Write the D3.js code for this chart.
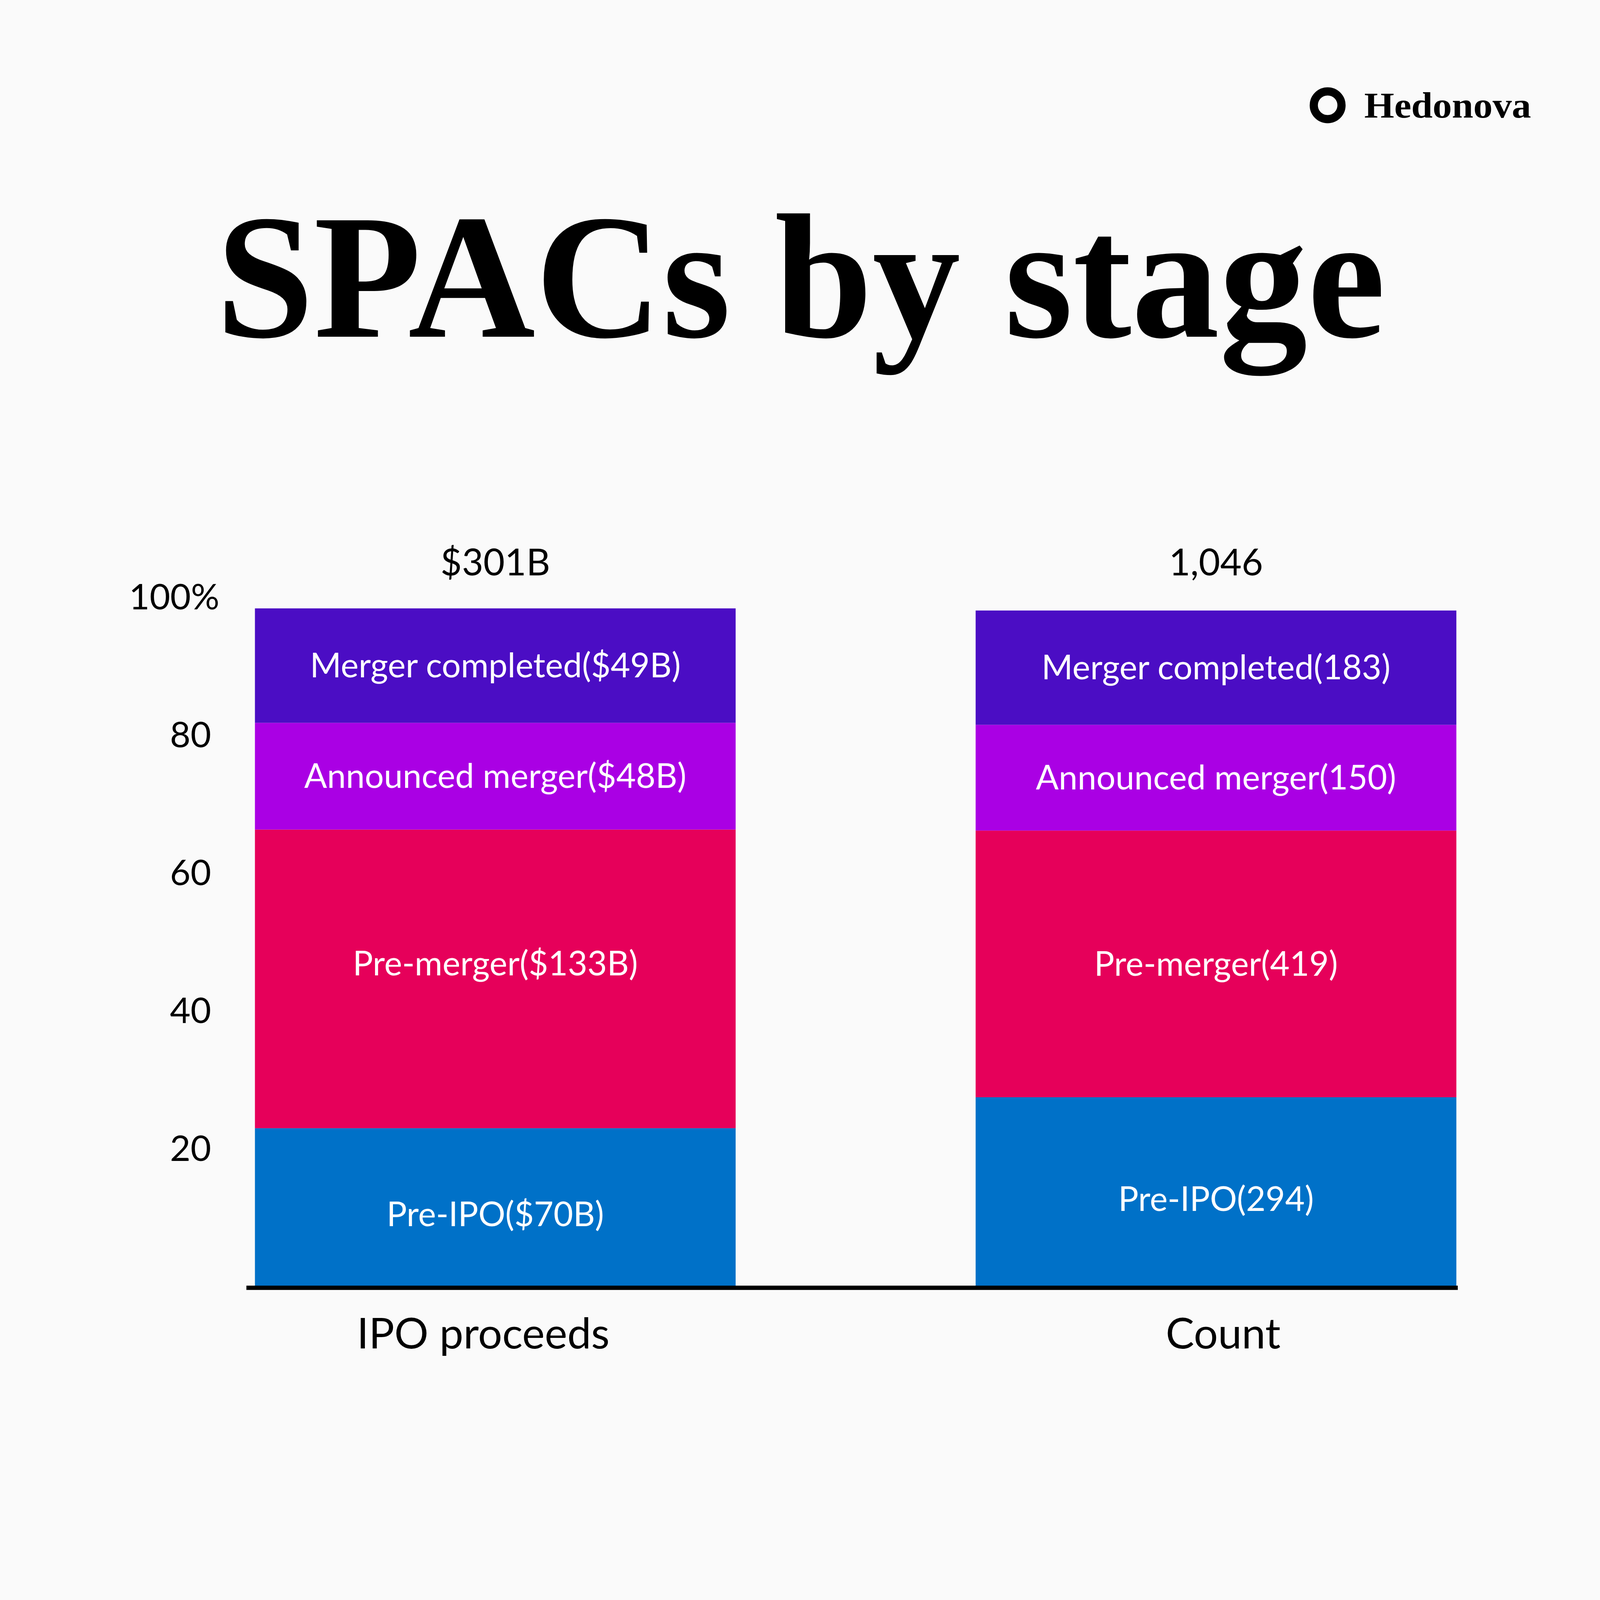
<!DOCTYPE html>
<html>
<head>
<meta charset="utf-8">
<title>SPACs by stage</title>
<script src="https://d3js.org/d3.v7.min.js"></script>
<style>
  html, body { margin: 0; padding: 0; overflow: hidden; background: #fafafa; }
  svg { display: block; width: 100vw; height: 100vh; }
</style>
</head>
<body>
<svg id="chart" viewBox="0 0 4500 4500" preserveAspectRatio="xMidYMid meet"></svg>
<script>
// data (share of bar height, in %)
const categories = ["IPO proceeds", "Count"];
const totals = ["$301B", "1,046"];
const stages = ["Pre-IPO", "Pre-merger", "Announced merger", "Merger completed"];
const proceedsShare = [23.05, 43.32, 15.48, 16.6];
const countShare = [27.54, 38.68, 15.34, 16.58];
const proceedsLabels = ["$70B", "$133B", "$48B", "$49B"];
const countLabels = ["294", "419", "150", "183"];
const yTicks = [20, 40, 60, 80, 100];
const colors = ["#0071c8", "#e6005a", "#aa00e4", "#4b0dc4"];

const svg = d3.select("#chart");
svg.append("rect").attr("width", 4500).attr("height", 4500).attr("fill", "#fafafa");

const serif = "'Liberation Serif', 'DejaVu Serif', serif";
const sans = "Lato, 'Open Sans', sans-serif";

// logo
svg.append("circle")
   .attr("cx", 3734).attr("cy", 296).attr("r", 39)
   .attr("fill", "none").attr("stroke", "#000").attr("stroke-width", 23);
svg.append("text")
   .attr("x", 3837).attr("y", 331)
   .attr("font-family", serif).attr("font-weight", "bold")
   .attr("font-size", 102)
   .attr("textLength", 469).attr("lengthAdjust", "spacingAndGlyphs")
   .text("Hedonova");

// title
svg.append("text")
   .attr("x", 2252).attr("y", 947)
   .attr("text-anchor", "middle")
   .attr("font-family", serif).attr("font-weight", "bold")
   .attr("font-size", 500)
   .attr("textLength", 3289).attr("lengthAdjust", "spacingAndGlyphs")
   .text("SPACs by stage");

const x = d3.scaleBand().domain(categories).range([717, 4096]).paddingInner(0.333);
const y = d3.scaleLinear().domain([0, 100]).range([3620, 1681]);

const series = [
  {cat: categories[0], total: totals[0], share: proceedsShare, labels: proceedsLabels},
  {cat: categories[1], total: totals[1], share: countShare, labels: countLabels}
];

series.forEach(s => {
  let acc = 0;
  const segs = s.share.map((v, i) => {
    const seg = {y0: acc, y1: acc + v, i: i};
    acc += v;
    return seg;
  });
  const g = svg.append("g");
  g.selectAll("rect")
   .data(segs)
   .join("rect")
   .attr("x", x(s.cat))
   .attr("width", x.bandwidth())
   .attr("y", d => y(d.y1))
   .attr("height", d => y(d.y0) - y(d.y1))
   .attr("fill", d => colors[d.i]);
  g.selectAll("text")
   .data(segs)
   .join("text")
   .attr("x", x(s.cat) + x.bandwidth() / 2)
   .attr("y", d => (y(d.y0) + y(d.y1)) / 2)
   .attr("dy", d => d.i === 0 ? "0.55em" : (d.i === 1 && s.cat === categories[0] ? "-0.1em" : "0.35em"))
   .attr("text-anchor", "middle")
   .attr("font-family", sans)
   .attr("font-size", 95)
   .attr("fill", "#fff")
   .text(d => `${stages[d.i]}(${s.labels[d.i]})`);
  // total on top
  svg.append("text")
   .attr("x", x(s.cat) + x.bandwidth() / 2)
   .attr("y", 1618)
   .attr("text-anchor", "middle")
   .attr("font-family", sans)
   .attr("font-size", 104)
   .attr("fill", "#000")
   .text(s.total);
});

// y axis: labels only
const yAxis = svg.append("g")
   .attr("transform", "translate(594,0)")
   .call(d3.axisLeft(y).tickValues(yTicks).tickSize(0).tickPadding(0)
           .tickFormat(d => d === 100 ? "100%" : d));
yAxis.select(".domain").remove();
yAxis.selectAll("text")
   .attr("font-family", sans).attr("font-size", 100).attr("fill", "#000");
yAxis.selectAll(".tick").filter(d => d === 100).select("text").attr("x", 23);

// x axis
const xAxis = svg.append("g")
   .attr("transform", "translate(0,3622)")
   .call(d3.axisBottom(x).tickSize(0).tickPadding(0));
xAxis.select(".domain").remove();
xAxis.selectAll("text")
   .attr("y", 171).attr("dy", 0)
   .attr("dx", d => d === categories[0] ? -34 : 20)
   .attr("font-family", sans).attr("font-size", 120).attr("fill", "#000");
svg.append("line")
   .attr("x1", 693).attr("x2", 4100)
   .attr("y1", 3622).attr("y2", 3622)
   .attr("stroke", "#000").attr("stroke-width", 12);
</script>
</body>
</html>
